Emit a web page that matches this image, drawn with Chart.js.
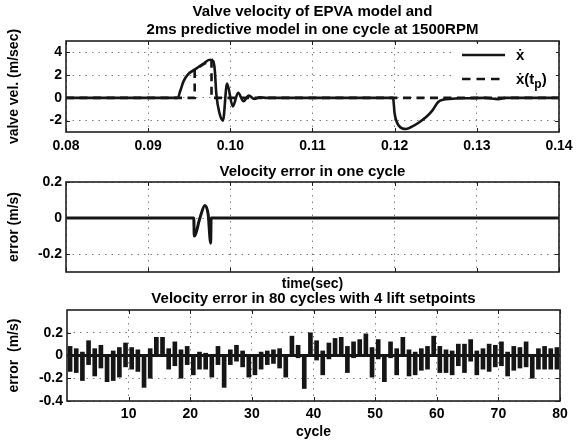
<!DOCTYPE html>
<html><head><meta charset="utf-8">
<script src="https://cdn.jsdelivr.net/npm/chart.js@4/dist/chart.umd.min.js"></script>
<style>
html,body{margin:0;padding:0;background:#fff;}
#wrap{position:relative;width:587px;height:445px;overflow:hidden;background:#fff;}
canvas{position:absolute;left:0;}
</style></head>
<body><div id="wrap">
<canvas id="c1" width="587" height="175" style="top:0px"></canvas>
<canvas id="c2" width="587" height="150" style="top:160px"></canvas>
<canvas id="c3" width="587" height="160" style="top:285px"></canvas>
</div>
<script>
// ---------- data ----------
const velTime  = [0.08, 0.0936, 0.0939, 0.0943, 0.0949, 0.0957, 0.0967, 0.0975, 0.0979, 0.0981, 0.0983, 0.0987, 0.0991, 0.0996, 0.1003, 0.10095, 0.1016, 0.10225, 0.1029, 0.1036, 0.1045, 0.1198, 0.1200, 0.1205, 0.1214, 0.1221, 0.1230, 0.1239, 0.1246, 0.1253, 0.1260, 0.1267, 0.1289, 0.1310, 0.1326, 0.1335, 0.14];
const velValue = [0, 0, 0.6, 1.45, 2.1, 2.5, 3.0, 3.35, 3.25, 2.5, 0.3, -1.4, -2.0, 1.25, -0.75, 0.45, -0.3, 0.2, -0.1, 0.05, 0, 0, -1.4, -2.44, -2.74, -2.53, -2.14, -1.64, -1.1, -0.36, -0.15, -0.09, -0.03, 0, -0.12, 0, 0];
const predTime  = [0.08, 0.09566, 0.09566, 0.0967, 0.09771, 0.09771, 0.14];
const predValue = [0, 0, 2.45, 2.95, 3.3, 0, 0];

const errTime  = [0.08, 0.09555, 0.09561, 0.0963, 0.0969, 0.0973, 0.09761, 0.09766, 0.14];
const errValue = [0, 0, -0.1, 0.0, 0.07, 0.02, -0.14, 0, 0];

const cycleMax = [0.08,0.06,0.03,0.13,0.06,0.09,0.00,0.04,0.07,0.11, 0.07,0.05,0.00,0.06,0.16,0.16,0.06,0.12,0.05,0.08,
                  0.00,0.03,0.02,0.00,0.08,0.00,0.05,0.09,0.04,0.00, 0.00,0.03,0.04,0.05,0.06,0.00,0.17,0.09,0.00,0.20,
                  0.13,0.04,0.11,0.15,0.16,0.08,0.12,0.14,0.19,0.07, 0.14,0.00,0.12,0.06,0.16,0.05,0.03,0.06,0.08,0.17,
                  0.08,0.05,0.04,0.10,0.10,0.14,0.04,0.06,0.10,0.09, 0.12,0.03,0.08,0.07,0.12,0.00,0.06,0.08,0.06,0.07];
const cycleMin = [-0.14,-0.15,-0.22,-0.08,-0.18,-0.11,-0.23,-0.22,-0.19,-0.10, -0.12,-0.14,-0.28,-0.20,0.00,0.00,-0.12,-0.09,-0.20,-0.08,
                  -0.17,-0.12,-0.12,-0.19,-0.08,-0.28,-0.08,-0.05,-0.10,-0.19, -0.17,-0.12,-0.08,-0.07,-0.11,-0.19,0.00,-0.02,-0.29,0.00,
                  -0.04,-0.17,-0.03,0.00,0.00,-0.15,-0.02,0.00,0.00,-0.19, -0.03,-0.23,-0.02,-0.17,0.00,-0.18,-0.17,-0.13,-0.12,0.00,
                  -0.15,-0.15,-0.17,-0.09,-0.15,-0.05,-0.17,-0.12,-0.14,-0.10, -0.09,-0.18,-0.13,-0.11,-0.10,-0.20,-0.12,-0.12,-0.12,-0.12];
const cycles = cycleMax.map((_, i) => i + 1);

const timeTicks  = [0.08, 0.09, 0.10, 0.11, 0.12, 0.13, 0.14];
const velTicks   = [-2, 0, 2, 4];
const errTicks   = [-0.2, 0, 0.2];
const cycleTicks = [10, 20, 30, 40, 50, 60, 70, 80];
const err80Ticks = [-0.4, -0.2, 0, 0.2];

// ---------- style ----------
const FAMILY = '"Liberation Sans", Arial, Helvetica, sans-serif';
Chart.defaults.font.family = FAMILY;
Chart.defaults.font.size = 14;
Chart.defaults.font.weight = 'bold';
Chart.defaults.color = '#000';
Chart.defaults.animation = false;

const INK = '#151515';
const GRID = '#808080';
const TITLE_FONT = {size: 15, weight: 'bold'};

function setTicks(arr){ return (scale) => { scale.ticks = arr.map(v => ({value: v})); }; }
function fixW(w){ return (scale) => { scale.width = w; }; }
function fixH(h){ return (scale) => { scale.height = h; }; }

const framePlugin = {
  id: 'frame',
  afterDatasetsDraw(chart){
    const {ctx, chartArea: {left, top, right, bottom}} = chart;
    ctx.save();
    ctx.strokeStyle = '#202020';
    ctx.lineWidth = 1.6;
    ctx.setLineDash([]);
    ctx.strokeRect(left, top, right - left, bottom - top);
    ctx.lineWidth = 1;
    const xs = chart.scales.x, ys = chart.scales.y;
    ctx.beginPath();
    xs.ticks.forEach(t => {
      const p = Math.round(xs.getPixelForValue(t.value)) + 0.5;
      ctx.moveTo(p, bottom); ctx.lineTo(p, bottom - 4);
      ctx.moveTo(p, top); ctx.lineTo(p, top + 4);
    });
    ys.ticks.forEach(t => {
      const p = Math.round(ys.getPixelForValue(t.value)) + 0.5;
      ctx.moveTo(left, p); ctx.lineTo(left + 4, p);
      ctx.moveTo(right, p); ctx.lineTo(right - 4, p);
    });
    ctx.stroke();
    ctx.restore();
  }
};

const legendPlugin = {
  id: 'miniLegend',
  afterDatasetsDraw(chart){
    const ctx = chart.ctx;
    ctx.save();
    ctx.fillStyle = '#fff';
    ctx.fillRect(452, 44, 104, 46);
    ctx.strokeStyle = INK;
    ctx.lineWidth = 2.5;
    ctx.beginPath(); ctx.moveTo(462, 55); ctx.lineTo(505, 55); ctx.stroke();
    ctx.setLineDash([8.5, 6]);
    ctx.beginPath(); ctx.moveTo(462, 79); ctx.lineTo(500, 79); ctx.stroke();
    ctx.setLineDash([]);
    ctx.fillStyle = '#000';
    ctx.textBaseline = 'alphabetic';
    ctx.textAlign = 'left';
    ctx.font = 'bold 15px ' + FAMILY;
    ctx.fillText('\u1E8B', 516, 60);
    ctx.fillText('\u1E8B', 516, 84);
    let x = 516 + ctx.measureText('\u1E8B').width;
    ctx.font = 'bold 15px ' + FAMILY;
    ctx.fillText('(t', x, 84);
    x += ctx.measureText('(t').width;
    ctx.font = 'bold 12px ' + FAMILY;
    ctx.fillText('p', x, 88);
    x += ctx.measureText('p').width;
    ctx.font = 'bold 15px ' + FAMILY;
    ctx.fillText(')', x, 84);
    ctx.restore();
  }
};

function gridOpts(){ return {color: GRID, lineWidth: 1, drawTicks: false}; }
function borderOpts(){ return {display: false, dash: [1.5, 5]}; }

// ---------- chart 1 ----------
new Chart(document.getElementById('c1'), {
  type: 'line',
  data: {
    datasets: [
      {label: 'xdot', data: velTime.map((t, i) => ({x: t, y: velValue[i]})),
       borderColor: INK, borderWidth: 2.6, pointRadius: 0, cubicInterpolationMode: 'monotone'},
      {label: 'xdot(tp)', data: predTime.map((t, i) => ({x: t, y: predValue[i]})),
       borderColor: INK, borderWidth: 2.6, pointRadius: 0, tension: 0, borderDash: [8, 5.5]}
    ]
  },
  options: {
    responsive: false,
    layout: {padding: {left: 0, right: 28, top: 0, bottom: 0}},
    plugins: {
      legend: {display: false},
      tooltip: {enabled: false},
      title: {display: true, fullSize: false,
              text: ['Valve velocity of EPVA model and', '2ms predictive model in one cycle at 1500RPM'],
              font: TITLE_FONT, color: '#000', padding: {top: 3, bottom: 2}}
    },
    scales: {
      x: {type: 'linear', min: 0.08, max: 0.14, afterBuildTicks: setTicks(timeTicks), afterFit: fixH(43),
          grid: gridOpts(), border: borderOpts(),
          ticks: {padding: 6, maxRotation: 0, callback: v => v.toFixed(2)}},
      y: {type: 'linear', min: -3, max: 5, afterBuildTicks: setTicks(velTicks), afterFit: fixW(66),
          grid: gridOpts(), border: borderOpts(),
          ticks: {padding: 4, callback: v => String(v)},
          title: {display: true, text: 'valve vel. (m/sec)', padding: {top: 6, bottom: 0}}}
    }
  },
  plugins: [framePlugin, legendPlugin]
});

// ---------- chart 2 ----------
new Chart(document.getElementById('c2'), {
  type: 'line',
  data: {
    datasets: [
      {label: 'error', data: errTime.map((t, i) => ({x: t, y: errValue[i]})),
       borderColor: INK, borderWidth: 3, pointRadius: 0, cubicInterpolationMode: 'monotone'}
    ]
  },
  options: {
    responsive: false,
    layout: {padding: {left: 0, right: 28, top: 0, bottom: 0}},
    plugins: {
      legend: {display: false},
      tooltip: {enabled: false},
      title: {display: true, fullSize: false, text: 'Velocity error in one cycle',
              font: TITLE_FONT, color: '#000', padding: {top: 3, bottom: 1}}
    },
    scales: {
      x: {type: 'linear', min: 0.08, max: 0.14, afterBuildTicks: setTicks(timeTicks), afterFit: fixH(38),
          grid: gridOpts(), border: borderOpts(),
          ticks: {display: false},
          title: {display: true, text: 'time(sec)', padding: {top: 0, bottom: 17}}},
      y: {type: 'linear', min: -0.3, max: 0.2, afterBuildTicks: setTicks(errTicks), afterFit: fixW(66),
          grid: gridOpts(), border: borderOpts(),
          ticks: {padding: 4, callback: v => (v === 0 ? '0' : v.toFixed(1))},
          title: {display: true, text: 'error (m/s)', padding: {top: 6, bottom: 0}}}
    }
  },
  plugins: [framePlugin]
});

// ---------- chart 3 ----------
new Chart(document.getElementById('c3'), {
  type: 'bar',
  data: {
    datasets: [
      {type: 'bar', label: 'cycle error', data: cycles.map((c, i) => ({x: c - 0.5, y: [cycleMin[i], cycleMax[i]]})),
       backgroundColor: INK, borderWidth: 0, barThickness: 4, order: 2},
      {type: 'line', label: 'zero', data: [{x: 0, y: 0}, {x: 80, y: 0}],
       borderColor: INK, borderWidth: 3, pointRadius: 0, order: 1}
    ]
  },
  options: {
    responsive: false,
    layout: {padding: {left: 0, right: 27, top: 0, bottom: 0}},
    plugins: {
      legend: {display: false},
      tooltip: {enabled: false},
      title: {display: true, fullSize: false, text: 'Velocity error in 80 cycles with 4 lift setpoints',
              font: TITLE_FONT, color: '#000', padding: {top: 5, bottom: 2}}
    },
    scales: {
      x: {type: 'linear', offset: false, min: 0, max: 80, afterBuildTicks: setTicks(cycleTicks), afterFit: fixH(44),
          grid: Object.assign(gridOpts(), {offset: false}), border: borderOpts(),
          ticks: {padding: 5, maxRotation: 0, callback: v => String(v)},
          title: {display: true, text: 'cycle', padding: {top: 0, bottom: 4}}},
      y: {type: 'linear', min: -0.4, max: 0.4, afterBuildTicks: setTicks(err80Ticks), afterFit: fixW(67),
          grid: gridOpts(), border: borderOpts(),
          ticks: {padding: 4, callback: v => (v === 0 ? '0' : v.toFixed(1))},
          title: {display: true, text: 'error  (m/s)', padding: {top: 6, bottom: 0}}}
    }
  },
  plugins: [framePlugin]
});
</script>
</body></html>
